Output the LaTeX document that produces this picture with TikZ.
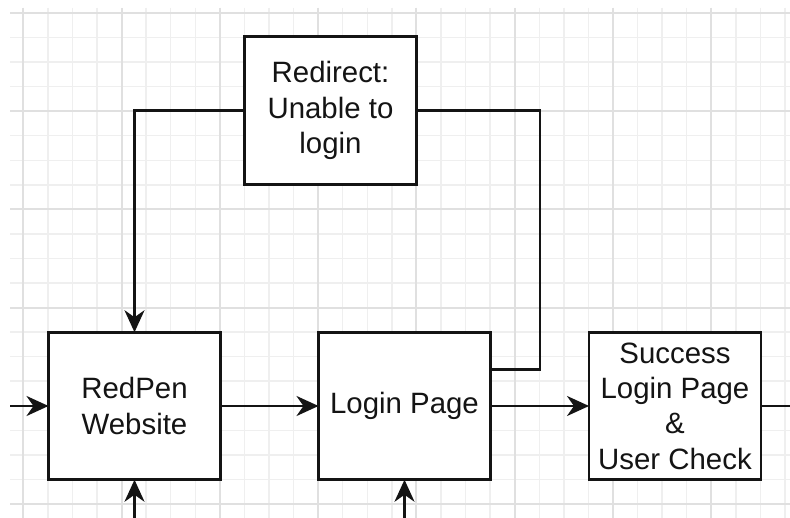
\documentclass[tikz,border=0pt]{standalone}
\usepackage{fontspec}
\setmainfont{Liberation Sans}
\usetikzlibrary{arrows.meta}
\definecolor{gridminor}{RGB}{239,239,239}
\definecolor{gridmajor}{RGB}{224,224,224}
\definecolor{ink}{RGB}{20,20,20}
\begin{document}
\begin{tikzpicture}[x=1pt,y=-1pt,
  box/.style={draw=ink, line width=2.7pt, fill=white, minimum width=172pt, minimum height=147.5pt,
    inner sep=0pt, outer sep=0pt, align=center, text=ink, font=\fontsize{29.4}{35.3}\selectfont},
  conn/.style={draw=ink, line width=2.7pt},
  arr/.style={conn, -{Stealth[length=22pt,width=20pt,inset=7pt]}}]
\useasboundingbox (0,0) rectangle (790,518);
\fill[white] (0,0) rectangle (790,518);
\begin{scope}
  \clip (10,8) rectangle (790,518);
  \foreach \k in {0,...,31} \draw[gridminor, line width=1.5pt] ({23.3+24.57*\k},8) -- ({23.3+24.57*\k},518);
  \foreach \k in {0,...,20} \draw[gridminor, line width=1.5pt] (10,{13+24.55*\k}) -- (790,{13+24.55*\k});
  \foreach \k in {0,4,...,28} \draw[gridmajor, line width=2pt] ({23.3+24.57*\k},8) -- ({23.3+24.57*\k},518);
  \foreach \k in {0,4,...,20} \draw[gridmajor, line width=2pt] (10,{13+24.55*\k}) -- (790,{13+24.55*\k});
\end{scope}

\node[box] (red) at (134.5,406) {RedPen\\Website};
\node[box] (login) at (404.5,406) {Login Page};
\node[box] (succ) at (675,406) {Success\\Login Page\\\&\\User Check};
\node[box] (redir) at (330.5,110.5) {Redirect:\\Unable to\\login};

\coordinate (inL) at (10,406);
\coordinate (outR) at (790,406);
\coordinate (inB1) at (134.5,518);
\coordinate (inB2) at (404.5,518);
\coordinate (rx) at (540,0);
\coordinate (exit) at ([yshift=-37pt]login.north east);

\draw[arr] (inL) -- (red.west);
\draw[arr] (red.east) -- (login.west);
\draw[arr] (login.east) -- (succ.west);
\draw[conn] (succ.east) -- (outR);
\draw[arr] (inB1) -- (red.south);
\draw[arr] (inB2) -- (login.south);
\draw[arr] (redir.west) -| (red.north);
\draw[conn] (exit) -- (exit -| rx) |- (redir.east);
\end{tikzpicture}
\end{document}
